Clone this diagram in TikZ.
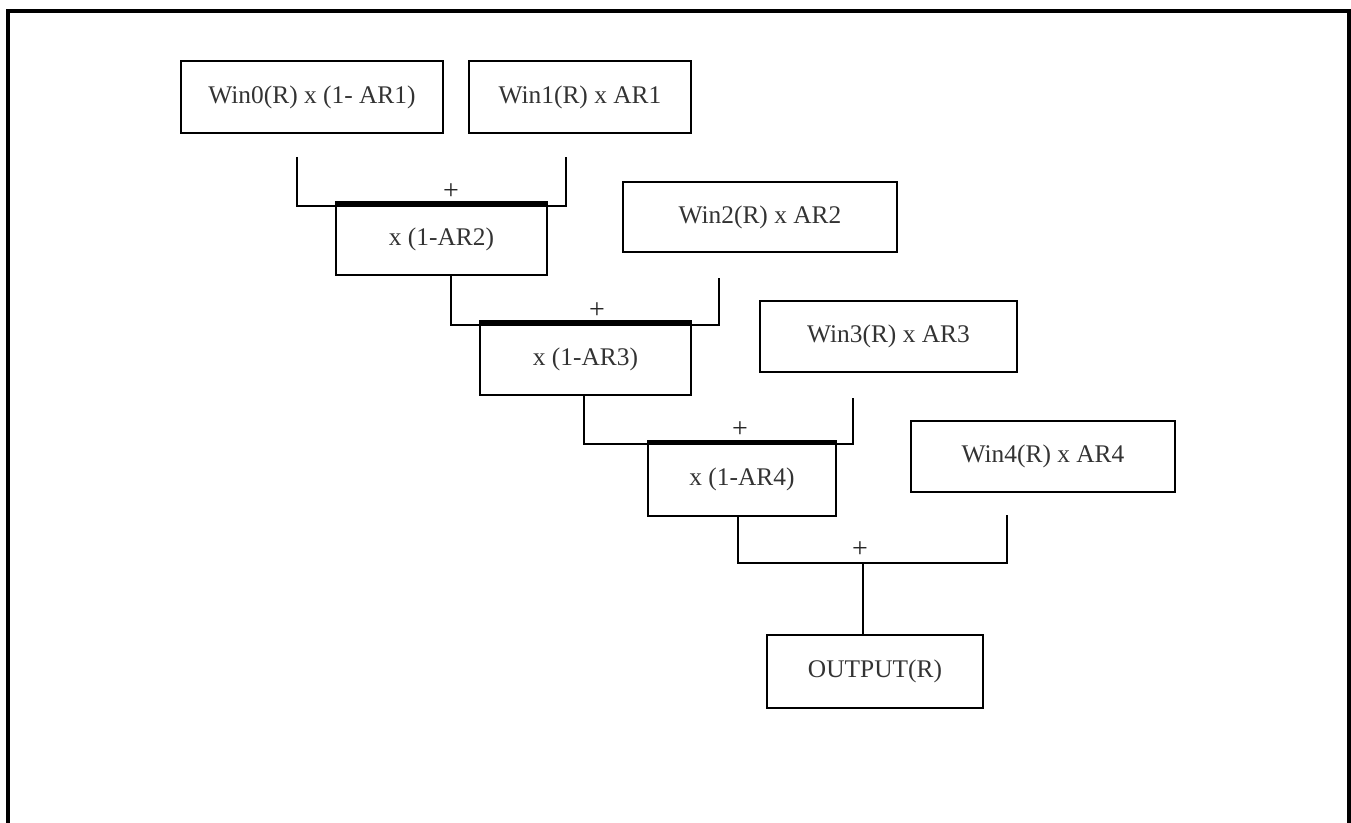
\documentclass[tikz,border=0pt]{standalone}
\usepackage{fontspec}
\setmainfont{Liberation Serif}
\begin{document}
\begin{tikzpicture}[x=0.5pt,y=-0.5pt,
  box/.style={draw=black, line width=1pt, inner sep=0pt, text=black!80, font=\fontsize{12.7}{14}\selectfont},
  wire/.style={draw=black, line width=1pt},
  topbar/.style={draw=black, line width=2pt},
  plus/.style={inner sep=0pt, text=black!85, font=\fontsize{14}{15}\selectfont}]
\useasboundingbox (0,0) rectangle (1351,823);
\draw[line width=1.6pt] (8,823) -- (8,11) -- (1349,11) -- (1349,823);

\node[box, minimum width=131pt, minimum height=36pt] (w0) at (312,97) {Win0(R) x (1- AR1)};
\node[box, minimum width=111pt, minimum height=36pt] (w1) at (580,97) {Win1(R) x AR1};
\node[box, minimum width=105.5pt, minimum height=35.5pt] (m2) at (441.5,239.5) {x (1-AR2)};
\node[box, minimum width=137pt, minimum height=35pt] (w2) at (760,217) {Win2(R) x AR2};
\node[box, minimum width=105.5pt, minimum height=36pt] (m3) at (585.5,359) {x (1-AR3)};
\node[box, minimum width=128.5pt, minimum height=35.5pt] (w3) at (888.5,336.5) {Win3(R) x AR3};
\node[box, minimum width=94pt, minimum height=36.5pt] (m4) at (742,479.5) {x (1-AR4)};
\node[box, minimum width=132pt, minimum height=35.5pt] (w4) at (1043,456.5) {Win4(R) x AR4};
\node[box, minimum width=108pt, minimum height=36.5pt] (out) at (875,671.5) {OUTPUT(R)};

% sum brackets
\coordinate (a1) at (297,157); \coordinate (b1) at (566,157);
\draw[wire] (a1) -- (297,206) -- (566,206) -- (b1);
\node[plus] (p1) at (451,192) {+};
\draw[topbar] (m2.north west) -- (m2.north east);

\coordinate (b2) at (719,278);
\draw[wire] (m2.south -| 451,0) -- (451,325) -- (719,325) -- (b2);
\node[plus] (p2) at (597,311) {+};
\draw[topbar] (m3.north west) -- (m3.north east);

\coordinate (b3) at (853,398);
\draw[wire] (m3.south -| 584,0) -- (584,444) -- (853,444) -- (b3);
\node[plus] (p3) at (740,430) {+};
\draw[topbar] (m4.north west) -- (m4.north east);

\coordinate (b4) at (1007,515);
\draw[wire] (m4.south -| 738,0) -- (738,563) -- (1007,563) -- (b4);
\node[plus] (p4) at (860,550) {+};
\draw[wire] (out.north -| 863,0) -- (863,563);
\end{tikzpicture}
\end{document}
